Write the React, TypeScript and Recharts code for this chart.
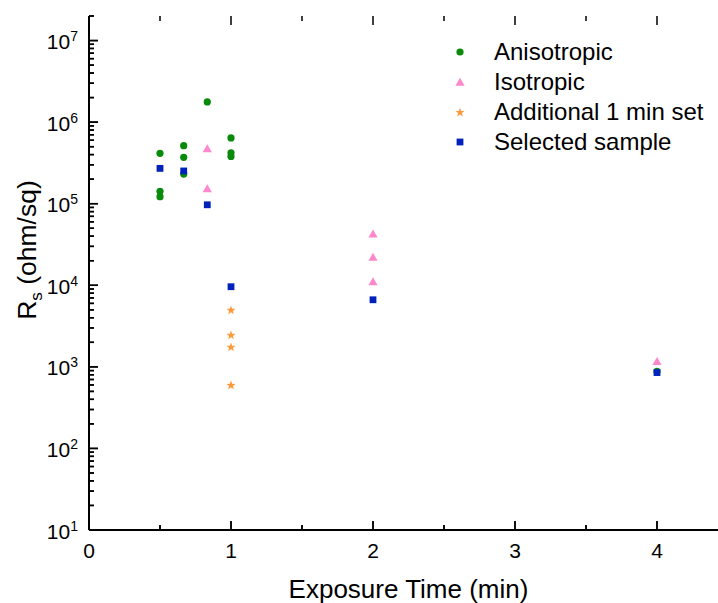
import React from 'react';
import { ScatterChart, Scatter, XAxis, YAxis, Legend, ReferenceLine } from 'recharts';

const anisoX = [0.5, 0.5, 0.5, 0.667, 0.667, 0.667, 0.833, 1, 1, 1, 4];
const anisoY = [414000, 142000, 122000, 515000, 370000, 231000, 1770000, 640000, 420000, 380000, 880];
const isoX = [0.833, 0.833, 2, 2, 2, 4];
const isoY = [473000, 153000, 42800, 22200, 11100, 1170];
const addX = [1, 1, 1, 1];
const addY = [5000, 2470, 1760, 601];
const selX = [0.5, 0.667, 0.833, 1, 2, 4];
const selY = [271000, 252000, 97000, 9600, 6640, 851];

const seriesNames = ['Anisotropic', 'Isotropic', 'Additional 1 min set', 'Selected sample'];
const seriesColors = ['#0a8a0a', '#ff88cc', '#ff9a3c', '#0022bb'];
const seriesShapes = ['circle', 'triangle', 'star', 'square'];

const X_MIN = 0;
const X_MAX = 4.5;
const Y_MIN = 10;
const Y_MAX = 20000000;

const xTicks = [0, 0.5, 1, 1.5, 2, 2.5, 3, 3.5, 4, 4.5];
const xLabelTicks = [0, 1, 2, 3, 4];
const yMajorTicks = [10, 100, 1000, 10000, 100000, 1000000, 10000000];
const yMinorMultipliers = [2, 3, 4, 5, 6, 7, 8, 9];

const yTicks: number[] = [];
yMajorTicks.forEach((d) => {
  yTicks.push(d);
  if (d < 10000000) yMinorMultipliers.forEach((m) => yTicks.push(d * m));
});
yTicks.push(Y_MAX);

const zip = (xs: number[], ys: number[]) => xs.map((x, i) => ({ x, y: ys[i] }));
const seriesData = [zip(anisoX, anisoY), zip(isoX, isoY), zip(addX, addY), zip(selX, selY)];

const isMajorY = (v: number) => {
  const lg = Math.log10(v);
  return Math.abs(lg - Math.round(lg)) < 1e-6;
};

// chart geometry
const CHART_W = 740;
const CHART_H = 603;
const MARGIN = { top: 16, right: 12, bottom: 0, left: 0 };
const Y_AXIS_W = 89;
const X_AXIS_H = 73;
const PLOT_W = CHART_W - MARGIN.left - MARGIN.right - Y_AXIS_W;
const PLOT_H = CHART_H - MARGIN.top - MARGIN.bottom - X_AXIS_H;
const MAJOR_LEN = 9;
const MINOR_LEN = 5;
// tick lengths expressed in data units for reference-line segments
const xUnitsPerPx = (X_MAX - X_MIN) / PLOT_W;
const yDecadesPerPx = Math.log10(Y_MAX / Y_MIN) / PLOT_H;

const leftTickData = yTicks.map((v) => ({ x: X_MIN, y: v, major: isMajorY(v), exp: Math.round(Math.log10(v)) }));
const bottomTickData = xTicks.map((v) => ({ x: v, y: Y_MIN, major: xLabelTicks.includes(v), label: v }));
const topTickData = xTicks.map((v) => ({ x: v, y: Y_MAX, major: xLabelTicks.includes(v) }));

const FONT = '"Liberation Sans", Arial, Helvetica, sans-serif';

function starPoints(cx: number, cy: number, R: number, r: number) {
  const pts: string[] = [];
  for (let i = 0; i < 10; i++) {
    const a = ((-90 + i * 36) * Math.PI) / 180;
    const rad = i % 2 === 0 ? R : r;
    pts.push(`${cx + rad * Math.cos(a)},${cy + rad * Math.sin(a)}`);
  }
  return pts.join(' ');
}

function Marker({ kind, cx, cy, color }: { kind: string; cx: number; cy: number; color: string }) {
  if (cx == null || cy == null || isNaN(cx) || isNaN(cy)) return null;
  if (kind === 'circle') return <circle cx={cx} cy={cy} r={3.6} fill={color} />;
  if (kind === 'triangle')
    return <polygon points={`${cx},${cy - 4.3} ${cx - 4.6},${cy + 3.7} ${cx + 4.6},${cy + 3.7}`} fill={color} />;
  if (kind === 'square') return <rect x={cx - 3.4} y={cy - 3.4} width={6.8} height={6.8} fill={color} />;
  return <polygon points={starPoints(cx, cy + 0.5, 4.8, 2.0)} fill={color} />;
}

const getField = (p: any, key: string) => (p.payload && p.payload[key] !== undefined ? p.payload[key] : p[key]);

const LeftTick = (p: any) => {
  const { cx, cy } = p;
  if (cx == null || cy == null || isNaN(cx) || isNaN(cy)) return <g />;
  const major = getField(p, 'major');
  const exp = getField(p, 'exp');
  const len = major ? MAJOR_LEN : MINOR_LEN;
  return (
    <g>
      <rect x={cx} y={cy - 0.75} width={len} height={1.5} fill="#000" />
      {major && (
        <text x={cx - 11} y={cy + 8.5} textAnchor="end" fontSize={21} fontFamily={FONT} fill="#000">
          10
          <tspan dy={-8} fontSize={14}>
            {exp}
          </tspan>
        </text>
      )}
    </g>
  );
};

const BottomTick = (p: any) => {
  const { cx, cy } = p;
  if (cx == null || cy == null || isNaN(cx) || isNaN(cy)) return <g />;
  const major = getField(p, 'major');
  const label = getField(p, 'label');
  const len = major ? MAJOR_LEN : MINOR_LEN;
  return (
    <g>
      <rect x={cx - 0.75} y={cy - len} width={1.5} height={len} fill="#000" />
      {major && (
        <text x={cx} y={cy + 28} textAnchor="middle" fontSize={21} fontFamily={FONT} fill="#000">
          {label}
        </text>
      )}
    </g>
  );
};

const TopTick = (p: any) => {
  const { cx, cy } = p;
  if (cx == null || cy == null || isNaN(cx) || isNaN(cy)) return <g />;
  const major = getField(p, 'major');
  const len = major ? MAJOR_LEN : MINOR_LEN;
  return <rect x={cx - 0.75} y={cy} width={1.5} height={len} fill="#000" />;
};

const LegendContent = () => (
  <div style={{ fontFamily: FONT }}>
    {seriesNames.map((name, i) => (
      <div key={name} style={{ height: 30, display: 'flex', alignItems: 'center' }}>
        <svg width={24} height={30} style={{ display: 'block' }}>
          <Marker kind={seriesShapes[i]} cx={12} cy={15} color={seriesColors[i]} />
        </svg>
        <span style={{ marginLeft: 22, fontSize: 24, lineHeight: '30px', color: '#000', whiteSpace: 'nowrap' }}>
          {name}
        </span>
      </div>
    ))}
  </div>
);

export default function App() {
  return (
    <div
      style={{
        position: 'absolute',
        left: 0,
        top: 0,
        width: 718,
        height: 603,
        overflow: 'hidden',
        background: '#fff',
      }}
    >
      <ScatterChart width={CHART_W} height={CHART_H} margin={MARGIN}>
        <XAxis
          xAxisId="bottom"
          dataKey="x"
          type="number"
          domain={[X_MIN, X_MAX]}
          ticks={xTicks}
          interval={0}
          tickSize={0}
          tickMargin={0}
          tickLine={false}
          tick={false}
          axisLine={{ stroke: '#000', strokeWidth: 2 }}
          height={X_AXIS_H}
        />
        <XAxis
          xAxisId="top"
          orientation="top"
          dataKey="x"
          type="number"
          domain={[X_MIN, X_MAX]}
          ticks={xTicks}
          interval={0}
          tickSize={0}
          tickMargin={0}
          tickLine={false}
          tick={false}
          axisLine={{ stroke: '#000', strokeWidth: 2 }}
          height={0}
        />
        <YAxis
          dataKey="y"
          type="number"
          scale="log"
          domain={[Y_MIN, Y_MAX]}
          ticks={yTicks}
          interval={0}
          tickSize={0}
          tickMargin={0}
          tickLine={false}
          tick={false}
          axisLine={{ stroke: '#000', strokeWidth: 2 }}
          width={Y_AXIS_W}
        />
        <Legend
          layout="vertical"
          align="center"
          verticalAlign="middle"
          content={LegendContent}
          wrapperStyle={{ position: 'absolute', left: 448, top: 37, width: 270, height: 120 }}
        />
        {leftTickData.map((t) => (
          <ReferenceLine
            key={`l-${t.y}`}
            xAxisId="bottom"
            ifOverflow="visible"
            stroke="#000"
            strokeWidth={1.5}
            segment={[
              { x: X_MIN, y: t.y },
              { x: X_MIN + (t.major ? MAJOR_LEN : MINOR_LEN) * xUnitsPerPx, y: t.y },
            ]}
          />
        ))}
        {bottomTickData.map((t) => (
          <ReferenceLine
            key={`b-${t.x}`}
            xAxisId="bottom"
            ifOverflow="visible"
            stroke="#000"
            strokeWidth={1.5}
            segment={[
              { x: t.x, y: Y_MIN },
              { x: t.x, y: Y_MIN * Math.pow(10, (t.major ? MAJOR_LEN : MINOR_LEN) * yDecadesPerPx) },
            ]}
          />
        ))}
        <Scatter
          name="left-ticks"
          legendType="none"
          xAxisId="bottom"
          data={leftTickData}
          isAnimationActive={false}
          shape={LeftTick}
        />
        <Scatter
          name="bottom-ticks"
          legendType="none"
          xAxisId="bottom"
          data={bottomTickData}
          isAnimationActive={false}
          shape={BottomTick}
        />
        <Scatter
          name="top-ticks"
          legendType="none"
          xAxisId="bottom"
          data={topTickData}
          isAnimationActive={false}
          shape={TopTick}
        />
        {seriesNames.map((name, i) => (
          <Scatter
            key={name}
            name={name}
            xAxisId="bottom"
            data={seriesData[i]}
            fill={seriesColors[i]}
            isAnimationActive={false}
            shape={(p: any) => <Marker kind={seriesShapes[i]} cx={p.cx} cy={p.cy} color={seriesColors[i]} />}
          />
        ))}
      </ScatterChart>
      <div
        style={{
          position: 'absolute',
          left: 89,
          width: 639,
          top: 574,
          textAlign: 'center',
          fontSize: 26,
          lineHeight: '30px',
          fontFamily: FONT,
          color: '#000',
          whiteSpace: 'nowrap',
        }}
      >
        Exposure Time (min)
      </div>
      <div
        style={{
          position: 'absolute',
          left: -83.4,
          top: 235,
          width: 220,
          height: 30,
          textAlign: 'center',
          fontSize: 26.5,
          lineHeight: '30px',
          fontFamily: FONT,
          color: '#000',
          whiteSpace: 'nowrap',
          transform: 'rotate(-90deg)',
          transformOrigin: '50% 50%',
        }}
      >
        R<span style={{ fontSize: 17, position: 'relative', top: 6 }}>s</span> (ohm/sq)
      </div>
    </div>
  );
}
